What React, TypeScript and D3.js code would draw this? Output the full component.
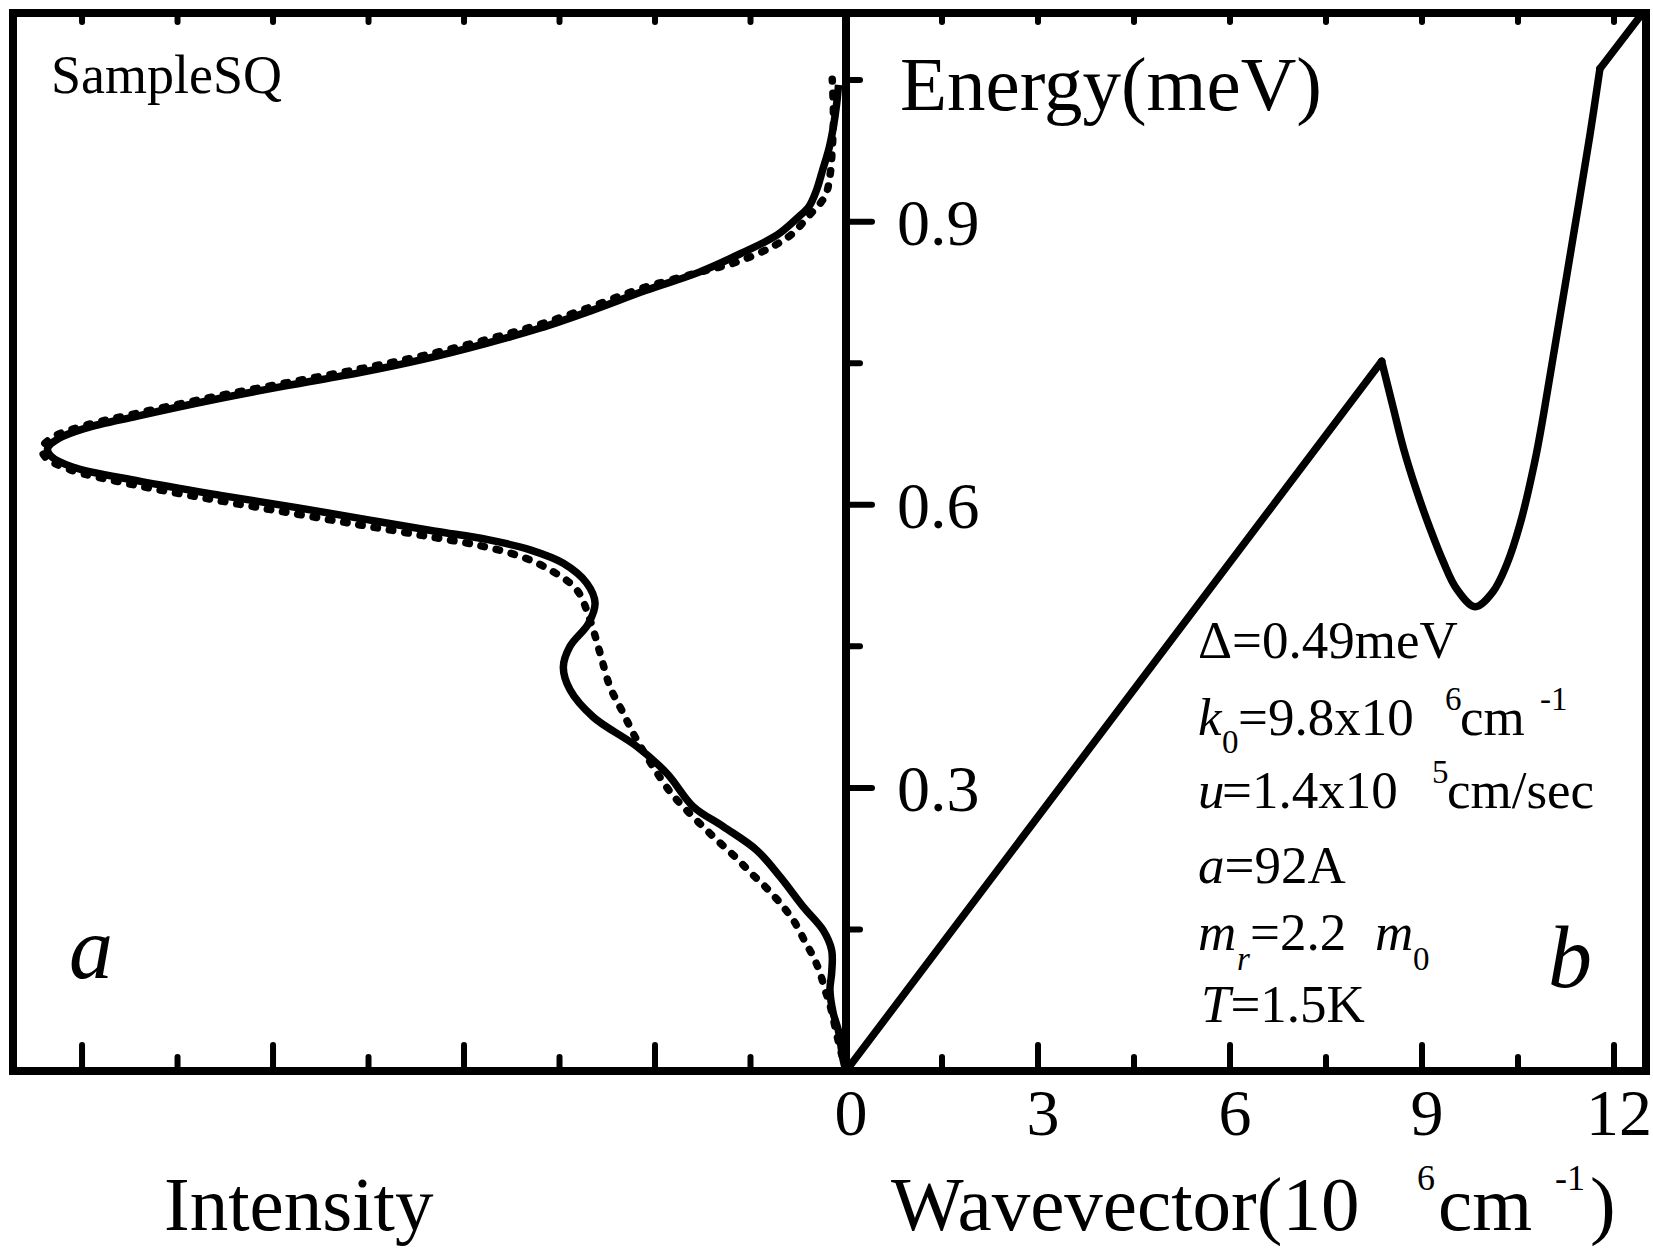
import * as d3 from 'd3'

const W = 1653
const H = 1249

// shared energy axis (meV)
const energyMajor = [0.3, 0.6, 0.9]
const energyMinor = [0.15, 0.45, 0.75, 1.05]
const energyLabels = ['0.3', '0.6', '0.9']

// wavevector axis (10^6 cm^-1)
const kMajor = [0, 3, 6, 9, 12]
const kMinor = [1.5, 4.5, 7.5, 10.5]
const kLabels = ['0', '3', '6', '9', '12']

// intensity axis (no labels)
const intensityMajor = [2, 4, 6, 8]
const intensityMinor = [1, 3, 5, 7]

// panel a: spectra, solid (measured) and dotted (calculated)
const solidE = [0, 0.012, 0.043, 0.061, 0.086, 0.104, 0.128, 0.149, 0.174, 0.206, 0.234, 0.259, 0.28, 0.315, 0.344, 0.375, 0.404, 0.428, 0.45, 0.474, 0.496, 0.517, 0.538, 0.552, 0.563, 0.572, 0.584, 0.597, 0.61, 0.625, 0.64, 0.652, 0.66, 0.67, 0.681, 0.694, 0.711, 0.726, 0.74, 0.754, 0.771, 0.787, 0.806, 0.827, 0.846, 0.866, 0.886, 0.905, 0.916, 0.933, 0.955, 0.978, 1.0, 1.023, 1.045]
const solidI = [0, 0.03, 0.08, 0.133, 0.168, 0.15, 0.15, 0.238, 0.447, 0.691, 0.935, 1.285, 1.599, 1.872, 2.192, 2.646, 2.89, 2.96, 2.89, 2.698, 2.628, 2.715, 2.96, 3.3, 3.75, 4.3, 5.0, 5.75, 6.55, 7.4, 8.1, 8.33, 8.36, 8.25, 7.97, 7.42, 6.64, 5.87, 5.09, 4.43, 3.765, 3.21, 2.66, 2.1, 1.55, 1.107, 0.72, 0.498, 0.388, 0.31, 0.244, 0.177, 0.133, 0.1, 0.078]

const dottedE = [0, 0.033, 0.07, 0.086, 0.104, 0.121, 0.137, 0.157, 0.174, 0.192, 0.209, 0.227, 0.245, 0.262, 0.28, 0.296, 0.322, 0.351, 0.379, 0.407, 0.443, 0.478, 0.51, 0.531, 0.545, 0.556, 0.566, 0.578, 0.591, 0.605, 0.621, 0.637, 0.65, 0.66, 0.672, 0.684, 0.697, 0.714, 0.729, 0.744, 0.758, 0.775, 0.791, 0.81, 0.829, 0.846, 0.857, 0.872, 0.886, 0.905, 0.927, 0.95, 0.978, 1.0, 1.023, 1.051]
const dottedI = [0, 0.084, 0.168, 0.22, 0.272, 0.342, 0.429, 0.534, 0.657, 0.814, 0.987, 1.162, 1.354, 1.529, 1.704, 1.843, 2.018, 2.192, 2.332, 2.471, 2.576, 2.681, 2.82, 3.099, 3.4, 3.8, 4.35, 5.05, 5.8, 6.6, 7.45, 8.12, 8.38, 8.42, 8.3, 7.97, 7.42, 6.64, 5.87, 5.09, 4.43, 3.765, 3.21, 2.66, 2.15, 1.55, 1.15, 0.8, 0.576, 0.4, 0.22, 0.166, 0.144, 0.133, 0.133, 0.144]

// panel b: dispersion curve
const phononK = [0, 8.37]
const phononE = [0, 0.752]
const rotonK = [8.37, 8.55, 8.71, 8.92, 9.125, 9.33, 9.54, 9.83, 10.11, 10.32, 10.53, 10.76, 10.9, 11.1, 11.36, 11.62, 11.78]
const rotonE = [0.752, 0.703, 0.66, 0.614, 0.575, 0.54, 0.511, 0.492, 0.508, 0.536, 0.579, 0.645, 0.696, 0.777, 0.883, 0.99, 1.062]
const tailK = [11.78, 12.48]
const tailE = [1.062, 1.124]

const FONT = "'Liberation Serif', 'Times New Roman', serif"

const left = 13
const top = 13
const axisX = 846
const right = 1646
const bottom = 1071

const xK = d3.scaleLinear().domain([0, 12.5]).range([axisX, right])
const xI = d3.scaleLinear().domain([0, 8.723]).range([axisX, left])
const yE = d3.scaleLinear().domain([0, 1.1211]).range([bottom, top])

const zip = (a: number[], b: number[]) => a.map((v, i) => [v, b[i]] as [number, number])

export default function App() {
  const specLine = d3.line<[number, number]>()
    .x(d => xI(d[1]))
    .y(d => yE(d[0]))
    .curve(d3.curveCatmullRom.alpha(0.5))

  const dispStraight = d3.line<[number, number]>()
    .x(d => xK(d[0]))
    .y(d => yE(d[1]))

  const dispSmooth = d3.line<[number, number]>()
    .x(d => xK(d[0]))
    .y(d => yE(d[1]))
    .curve(d3.curveCatmullRom.alpha(0.5))

  const MAJ = 26
  const MIN = 14
  const TOPT = 9

  return (
    <svg width={W} height={H} style={{ position: 'absolute', left: 0, top: 0, background: '#fff' }}
      fontFamily={FONT}>
      <defs>
        <clipPath id="panelB">
          <rect x={axisX} y={top} width={right - axisX} height={bottom - top} />
        </clipPath>
        <clipPath id="panelA">
          <rect x={left} y={top} width={axisX - left} height={bottom - top} />
        </clipPath>
      </defs>

      {/* spectra */}
      <g clipPath="url(#panelA)" fill="none" stroke="#000">
        <path d={specLine(zip(dottedE, dottedI)) || ''} strokeWidth={7.5} strokeDasharray="3.5 12" strokeLinecap="round" />
        <path d={specLine(zip(solidE, solidI)) || ''} strokeWidth={7.5} strokeLinejoin="round" />
      </g>

      {/* dispersion */}
      <g clipPath="url(#panelB)" fill="none" stroke="#000" strokeWidth={7.5} strokeLinejoin="round" strokeLinecap="round">
        <path d={dispStraight(zip(phononK, phononE)) || ''} />
        <path d={dispSmooth(zip(rotonK, rotonE)) || ''} />
        <path d={dispStraight(zip(tailK, tailE)) || ''} />
      </g>

      {/* ticks */}
      <g stroke="#000" strokeWidth={6} strokeLinecap="round">
        {intensityMajor.map(v => (
          <g key={'im' + v}>
            <line x1={xI(v)} x2={xI(v)} y1={bottom} y2={bottom - MAJ} />
            <line x1={xI(v)} x2={xI(v)} y1={top} y2={top + TOPT} />
          </g>
        ))}
        {intensityMinor.map(v => (
          <g key={'in' + v}>
            <line x1={xI(v)} x2={xI(v)} y1={bottom} y2={bottom - MIN} />
            <line x1={xI(v)} x2={xI(v)} y1={top} y2={top + TOPT} />
          </g>
        ))}
        {kMajor.map(v => (
          <g key={'km' + v}>
            <line x1={xK(v)} x2={xK(v)} y1={bottom} y2={bottom - MAJ} />
            <line x1={xK(v)} x2={xK(v)} y1={top} y2={top + TOPT} />
          </g>
        ))}
        {kMinor.map(v => (
          <g key={'kn' + v}>
            <line x1={xK(v)} x2={xK(v)} y1={bottom} y2={bottom - MIN} />
            <line x1={xK(v)} x2={xK(v)} y1={top} y2={top + TOPT} />
          </g>
        ))}
        {energyMajor.map(v => (
          <line key={'em' + v} x1={axisX} x2={axisX + MAJ} y1={yE(v)} y2={yE(v)} />
        ))}
        {energyMinor.map(v => (
          <line key={'en' + v} x1={axisX} x2={axisX + MIN} y1={yE(v)} y2={yE(v)} />
        ))}
      </g>

      {/* frames */}
      <g fill="none" stroke="#000" strokeWidth={8} strokeLinejoin="miter">
        <rect x={left} y={top} width={axisX - left} height={bottom - top} />
        <rect x={axisX} y={top} width={right - axisX} height={bottom - top} />
      </g>

      {/* tick labels */}
      <g fontSize={66} fill="#000">
        {energyMajor.map((v, i) => (
          <text key={'el' + v} x={897} y={yE(v) + 23}>{energyLabels[i]}</text>
        ))}
        {kMajor.map((v, i) => (
          <text key={'kl' + v} x={xK(v) + 5} y={1135} textAnchor="middle">{kLabels[i]}</text>
        ))}
      </g>

      {/* axis titles */}
      <text x={900} y={110} fontSize={77}>Energy(meV)</text>
      <text x={164} y={1230} fontSize={77}>Intensity</text>
      <text x={891} y={1230} fontSize={77}>
        Wavevector(10
        <tspan x={1417} dy={-40} fontSize={36}>6</tspan>
        <tspan x={1438} dy={40}>cm</tspan>
        <tspan x={1555} dy={-40} fontSize={36}>-1</tspan>
        <tspan x={1590} dy={40}>)</tspan>
      </text>

      {/* panel labels */}
      <text x={51} y={93} fontSize={54}>SampleSQ</text>
      <text x={69} y={978} fontSize={88} fontStyle="italic">a</text>
      <text x={1548} y={987} fontSize={88} fontStyle="italic">b</text>

      {/* parameters */}
      <g fontSize={53} fill="#000">
        <text x={1198} y={658}>Δ=0.49meV</text>
        <text x={1198} y={735}>
          <tspan fontStyle="italic">k</tspan>
          <tspan x={1222} dy={18} fontSize={33}>0</tspan>
          <tspan x={1238} dy={-18}>=9.8x10</tspan>
          <tspan x={1445} dy={-25} fontSize={33}>6</tspan>
          <tspan x={1460} dy={25}>cm</tspan>
          <tspan x={1540} dy={-25} fontSize={33}>-1</tspan>
        </text>
        <text x={1198} y={808}>
          <tspan fontStyle="italic">u</tspan>
          <tspan x={1222}>=1.4x10</tspan>
          <tspan x={1432} dy={-25} fontSize={33}>5</tspan>
          <tspan x={1447} dy={25}>cm/sec</tspan>
        </text>
        <text x={1198} y={883}>
          <tspan fontStyle="italic">a</tspan>
          <tspan>=92A</tspan>
        </text>
        <text x={1198} y={950}>
          <tspan fontStyle="italic">m</tspan>
          <tspan x={1237} dy={20} fontSize={33} fontStyle="italic">r</tspan>
          <tspan x={1250} dy={-20}>=2.2</tspan>
          <tspan x={1375} fontStyle="italic">m</tspan>
          <tspan x={1413} dy={20} fontSize={33}>0</tspan>
        </text>
        <text x={1201} y={1022}>
          <tspan fontStyle="italic">T</tspan>
          <tspan>=1.5K</tspan>
        </text>
      </g>
    </svg>
  )
}
